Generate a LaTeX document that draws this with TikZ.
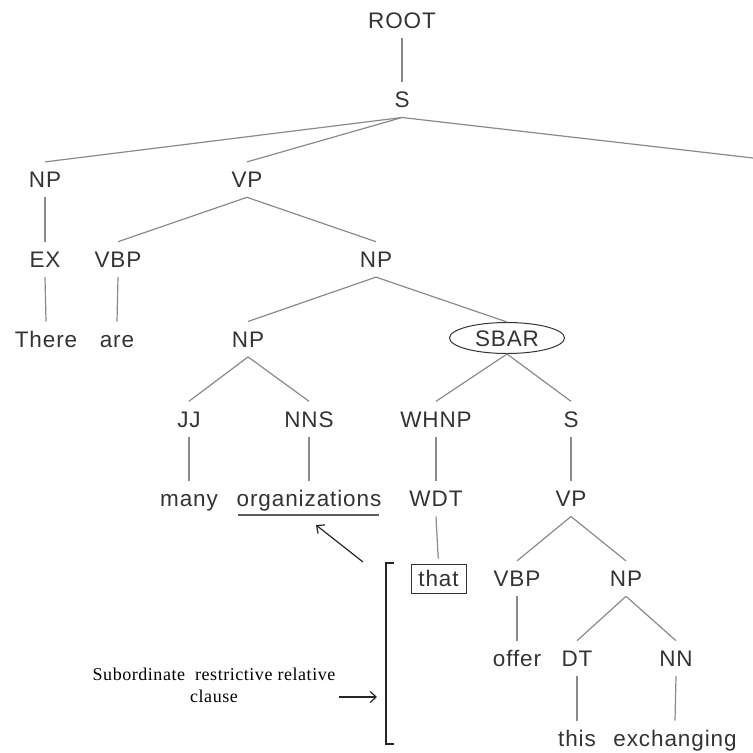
\documentclass[tikz,border=0pt]{standalone}
\usepackage{fontspec}
\setmainfont{Liberation Sans}[LetterSpace=4]
\newfontfamily\annotfont{Liberation Serif}[LetterSpace=3]
\usetikzlibrary{shapes.geometric,arrows.meta}
\definecolor{edgegray}{HTML}{8A8A8A}
\definecolor{txtgray}{HTML}{333333}
\begin{document}
\begin{tikzpicture}[x=1pt,y=-1pt,
  lbl/.style={font=\fontsize{22.5}{24}\selectfont, text=txtgray, inner xsep=1pt, inner ysep=9.5pt, text height=16pt, text depth=0pt},
  edge/.style={draw=edgegray, line width=1.2pt},
  blk/.style={draw=black!85, line width=1.2pt}]
\useasboundingbox (0,0) rectangle (753,753);
% nodes
\node[lbl] (root) at (402,{20}) {ROOT};
\node[lbl] (s) at (402,{99.8}) {S};
\node[lbl] (np1) at (45,{179.6}) {NP};
\node[lbl] (vp1) at (247,{179.6}) {VP};
\coordinate (rt) at (753,158);
\node[lbl] (ex) at (45,{259.4}) {EX};
\node[lbl] (vbp1) at (118,{259.4}) {VBP};
\node[lbl] (np2) at (376,{259.4}) {NP};
\node[lbl] (there) at (46,{339.2}) {There};
\node[lbl] (are) at (117,{339.2}) {are};
\node[lbl] (np3) at (248,{339.2}) {NP};
\node[lbl, ellipse, draw=txtgray, line width=1pt, inner sep=0pt, minimum width=115pt, minimum height=31pt] (sbar) at (507,{338}) {SBAR};
\node[lbl] (jj) at (189,{419}) {JJ};
\node[lbl] (nns) at (309,{419}) {NNS};
\node[lbl] (whnp) at (436,{419}) {WHNP};
\node[lbl] (s2) at (571,{419}) {S};
\node[lbl] (many) at (189,{498.8}) {many};
\node[lbl] (orgs) at (309,{498.8}) {organizations};
\node[lbl] (wdt) at (436,{498.8}) {WDT};
\node[lbl] (vp2) at (571,{498.8}) {VP};
\node[lbl, draw=txtgray, line width=1pt, inner sep=0pt, minimum width=55pt, minimum height=29pt] (that) at (438.5,{578.6}) {that};
\node[lbl] (vbp2) at (517,{578.6}) {VBP};
\node[lbl] (np4) at (626,{578.6}) {NP};
\node[lbl] (offer) at (517,{658.4}) {offer};
\node[lbl] (dt) at (577,{658.4}) {DT};
\node[lbl] (nn) at (676,{658.4}) {NN};
\node[lbl] (this) at (577,{738.2}) {this};
\node[lbl] (exch) at (675,{738.2}) {exchanging};
% edges
\draw[edge] (root.south) -- (s.north);
\draw[edge] (s.south) -- (np1.north);
\draw[edge] (s.south) -- (vp1.north);
\draw[edge] (s.south) -- (rt);
\draw[edge] (np1.south) -- (ex.north);
\draw[edge] (vp1.south) -- (vbp1.north);
\draw[edge] (vp1.south) -- (np2.north);
\draw[edge] (ex.south) -- (there.north);
\draw[edge] (vbp1.south) -- (are.north);
\draw[edge] (np2.south) -- (np3.north);
\draw[edge] (np2.south) -- (sbar.north);
\draw[edge] (np3.south) -- (jj.north);
\draw[edge] (np3.south) -- (nns.north);
\draw[edge] (sbar.south) -- (whnp.north);
\draw[edge] (sbar.south) -- (s2.north);
\draw[edge] (jj.south) -- (many.north);
\draw[edge] (nns.south) -- (orgs.north);
\draw[edge] (whnp.south) -- (wdt.north);
\draw[edge] (s2.south) -- (vp2.north);
\draw[edge, shorten >=5pt] (wdt.south) -- (that.north);
\draw[edge] (vp2.south) -- (vbp2.north);
\draw[edge] (vp2.south) -- (np4.north);
\draw[edge] (vbp2.south) -- (offer.north);
\draw[edge] (np4.south) -- (dt.north);
\draw[edge] (np4.south) -- (nn.north);
\draw[edge] (dt.south) -- (this.north);
\draw[edge] (nn.south) -- (exch.north);
% underline and annotations
\coordinate (ul1) at (238,515);
\coordinate (ul2) at (379,515);
\draw[draw=txtgray!80, line width=1.2pt] (ul1) -- (ul2);
\coordinate (a1) at (363,562);
\coordinate (a2) at (316,525);
\draw[blk, -{Straight Barb[length=6pt,width=11pt]}] (a1) -- (a2);
\coordinate (b1) at (394,563);
\coordinate (b2) at (386,563);
\coordinate (b3) at (386,744);
\coordinate (b4) at (394,744);
\draw[blk] (b1) -- (b2) -- (b3) -- (b4);
\node[font=\annotfont\fontsize{18}{22}\selectfont, text=black, align=center, inner sep=0pt] (note) at (214,685) {Subordinate\ \ restrictive relative\\clause};
\coordinate (c1) at (339,697);
\coordinate (c2) at (377,697);
\draw[blk, -{Straight Barb[length=6pt,width=11pt]}] (c1) -- (c2);
\end{tikzpicture}
\end{document}
